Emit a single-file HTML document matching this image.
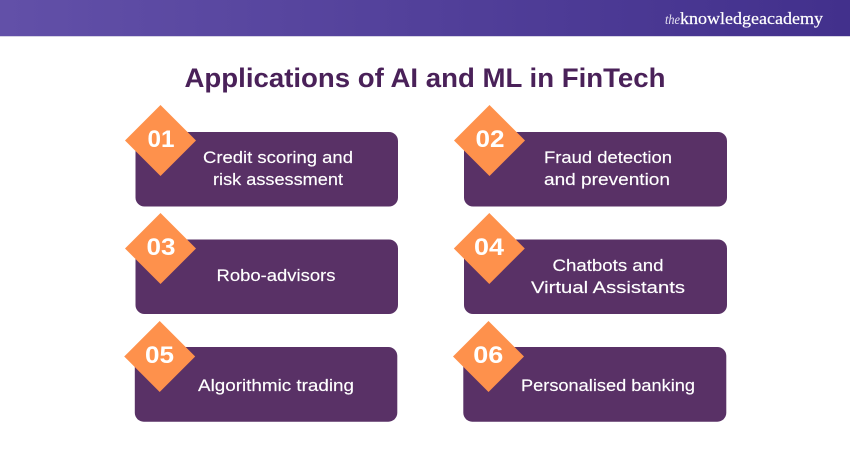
<!DOCTYPE html>
<html><head><meta charset="utf-8"><style>
html,body{margin:0;padding:0;background:#fff;width:850px;height:450px;overflow:hidden}
svg{display:block}
text{font-family:"Liberation Sans",sans-serif}
.t{font-size:17px;fill:#fff;text-anchor:middle;stroke:#fff;stroke-width:.15px}
.n{font-size:24.500px;font-weight:700;fill:#fff;text-anchor:middle}
.c{fill:#593166}
.d{fill:#fe914c}
</style></head><body>
<svg width="850" height="450" viewBox="0 0 850 450" xmlns="http://www.w3.org/2000/svg">
<defs><linearGradient id="g" x1="0" x2="1" y1="0" y2="0"><stop offset="0" stop-color="#6250a8"/><stop offset="1" stop-color="#42308c"/></linearGradient></defs>
<rect width="850" height="36" fill="url(#g)"/>
<rect y="36" width="850" height="1" fill="#d5d2e4"/>
<text x="665" y="24" font-size="14" font-style="italic" fill="#e6e2f2" textLength="15" lengthAdjust="spacingAndGlyphs" style="font-family:'Liberation Serif',serif">the</text>
<text x="680" y="24" font-size="17" fill="#fff" stroke="#fff" stroke-width=".2" textLength="143" lengthAdjust="spacingAndGlyphs" style="font-family:'Liberation Serif',serif">knowledgeacademy</text>
<text x="425" y="87" font-size="27" font-weight="700" fill="#4a2159" text-anchor="middle" textLength="481" lengthAdjust="spacingAndGlyphs">Applications of AI and ML in FinTech</text>

<rect class="c" x="135.500" y="132" width="262.500" height="74.500" rx="9"/>
<rect class="c" x="464" y="132" width="263" height="74.500" rx="9"/>
<rect class="c" x="135.500" y="239.500" width="262.500" height="74.500" rx="9"/>
<rect class="c" x="464" y="239.500" width="263" height="74.500" rx="9"/>
<rect class="c" x="134.800" y="347" width="262.500" height="74.700" rx="9"/>
<rect class="c" x="463.300" y="347" width="263" height="74.700" rx="9"/>

<polygon class="d" points="160.500,105 196,140.500 160.500,176 125,140.500"/>
<polygon class="d" points="489.500,105 525,140.500 489.500,176 454,140.500"/>
<polygon class="d" points="160.500,213 196,248.500 160.500,284 125,248.500"/>
<polygon class="d" points="489.300,213 524.800,248.500 489.300,284 453.800,248.500"/>
<polygon class="d" points="159.700,321 195.200,356.500 159.700,392 124.200,356.500"/>
<polygon class="d" points="488.500,321 524,356.500 488.500,392 453,356.500"/>

<text class="n" x="161" y="147" textLength="27" lengthAdjust="spacingAndGlyphs">01</text>
<text class="n" x="490" y="147" textLength="29" lengthAdjust="spacingAndGlyphs">02</text>
<text class="n" x="161" y="255" textLength="29" lengthAdjust="spacingAndGlyphs">03</text>
<text class="n" x="489" y="255" textLength="30" lengthAdjust="spacingAndGlyphs">04</text>
<text class="n" x="159.500" y="363" textLength="29" lengthAdjust="spacingAndGlyphs">05</text>
<text class="n" x="488.300" y="363" textLength="30" lengthAdjust="spacingAndGlyphs">06</text>

<text class="t" x="278" y="163" textLength="150" lengthAdjust="spacingAndGlyphs">Credit scoring and</text>
<text class="t" x="278" y="185" textLength="130" lengthAdjust="spacingAndGlyphs">risk assessment</text>
<text class="t" x="608" y="163" textLength="128" lengthAdjust="spacingAndGlyphs">Fraud detection</text>
<text class="t" x="607" y="185" textLength="126" lengthAdjust="spacingAndGlyphs">and prevention</text>
<text class="t" x="276" y="281" textLength="119" lengthAdjust="spacingAndGlyphs">Robo-advisors</text>
<text class="t" x="608" y="271" textLength="111" lengthAdjust="spacingAndGlyphs">Chatbots and</text>
<text class="t" x="608" y="293" textLength="154" lengthAdjust="spacingAndGlyphs">Virtual Assistants</text>
<text class="t" x="276" y="391" textLength="156" lengthAdjust="spacingAndGlyphs">Algorithmic trading</text>
<text class="t" x="608" y="391" textLength="174" lengthAdjust="spacingAndGlyphs">Personalised banking</text>
</svg>
</body></html>
